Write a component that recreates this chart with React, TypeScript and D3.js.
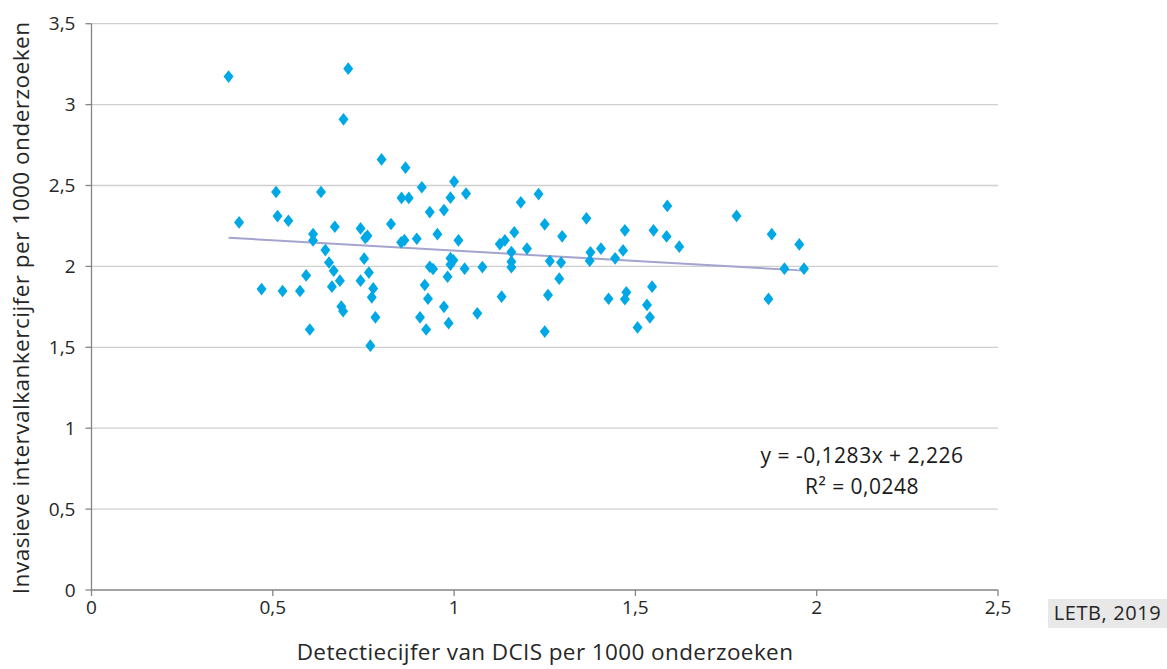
import React from "react";
import * as d3 from "d3";

// Detectiecijfer DCIS (x) en invasieve intervalkankercijfer (y) per regio, per 1000 onderzoeken
const dcisRate: number[] = [
  0.378, 0.708, 0.695, 0.407, 0.469, 0.509, 0.513, 0.543, 0.527, 0.575,
  0.592, 0.602, 0.611, 0.611, 0.633, 0.645, 0.655, 0.668, 0.663, 0.671,
  0.685, 0.689, 0.694, 0.742, 0.755, 0.761, 0.742, 0.752, 0.765, 0.777,
  0.773, 0.783, 0.769, 0.800, 0.826, 0.855, 0.866, 0.875, 0.854, 0.863,
  0.897, 0.911, 0.906, 0.919, 0.928, 0.923, 0.933, 0.933, 0.942, 0.954,
  0.972, 0.972, 0.990, 0.982, 0.985, 0.990, 0.998, 1.000, 0.990, 1.012,
  1.029, 1.033, 1.064, 1.078, 1.126, 1.131, 1.140, 1.158, 1.158, 1.158,
  1.166, 1.184, 1.201, 1.233, 1.250, 1.250, 1.259, 1.264, 1.290, 1.298,
  1.295, 1.365, 1.376, 1.374, 1.405, 1.426, 1.444, 1.471, 1.466, 1.475,
  1.471, 1.506, 1.532, 1.540, 1.546, 1.550, 1.588, 1.586, 1.621, 1.779,
  1.876, 1.867, 1.911, 1.952, 1.965,
];

const invasiveRate: number[] = [
  3.173, 3.222, 2.909, 2.272, 1.860, 2.460, 2.311, 2.282, 1.848, 1.848,
  1.944, 1.610, 2.200, 2.160, 2.460, 2.101, 2.024, 1.973, 1.875, 2.245,
  1.912, 1.752, 1.723, 2.235, 2.176, 2.189, 1.912, 2.048, 1.962, 1.864,
  1.809, 1.685, 1.510, 2.661, 2.262, 2.423, 2.610, 2.423, 2.149, 2.162,
  2.171, 2.489, 1.685, 1.885, 1.800, 1.610, 2.336, 1.998, 1.984, 2.199,
  1.750, 2.348, 2.425, 1.936, 1.649, 2.051, 2.038, 2.524, 2.011, 2.161,
  1.986, 2.450, 1.710, 1.996, 2.138, 1.813, 2.161, 2.089, 2.029, 1.995,
  2.211, 2.396, 2.110, 2.447, 2.260, 1.597, 1.823, 2.033, 1.924, 2.186,
  2.024, 2.297, 2.087, 2.035, 2.110, 1.800, 2.050, 2.223, 2.099, 1.840,
  1.797, 1.623, 1.762, 1.685, 1.875, 2.223, 2.374, 2.185, 2.122, 2.312,
  2.199, 1.799, 1.986, 2.136, 1.986,
];

const xTicks: number[] = [0, 0.5, 1, 1.5, 2, 2.5];
const yTicks: number[] = [0, 0.5, 1, 1.5, 2, 2.5, 3, 3.5];

// Lineaire trendlijn zoals weergegeven in de vergelijking
const trendSlope = -0.1283;
const trendIntercept = 2.226;
const rSquared = 0.0248;

const xTitle = "Detectiecijfer van DCIS per 1000 onderzoeken";
const yTitle = "Invasieve intervalkankercijfer per 1000 onderzoeken";
const sourceLabel = "LETB, 2019";

const W = 1167;
const H = 669;
const FONT = "'Open Sans', Lato, sans-serif";

const fmt = (v: number, digits?: number) =>
  (digits === undefined ? String(v) : v.toFixed(digits)).replace(".", ",");

export default function App() {
  const x = d3.scaleLinear().domain([0, 2.5]).range([91.5, 998]);
  const y = d3.scaleLinear().domain([0, 3.5]).range([590, 23.7]);

  const points = dcisRate.map((d, i) => ({ x: d, y: invasiveRate[i] }));
  const xMin = d3.min(dcisRate) as number;
  const xMax = d3.max(dcisRate) as number;
  const trend = d3
    .line<number>()
    .x((d) => x(d))
    .y((d) => y(trendSlope * d + trendIntercept))([xMin, xMax]);

  // ruitvormige markering, ca. 10 px breed en 13 px hoog
  const diamond = d3.symbol().type(d3.symbolDiamond).size(60)() as string;

  const eq = `y = ${fmt(trendSlope)}x + ${fmt(trendIntercept)}`;

  return (
    <svg
      width={W}
      height={H}
      style={{ position: "absolute", left: 0, top: 0, background: "#fff" }}
      fontFamily={FONT}
    >
      {/* horizontale rasterlijnen */}
      {yTicks.slice(1).map((t) => (
        <line
          key={"g" + t}
          x1={x(0)}
          x2={x(2.5)}
          y1={y(t)}
          y2={y(t)}
          stroke="#cfcfcf"
          strokeWidth={1.3}
        />
      ))}

      {/* assen */}
      <line x1={x(0)} x2={x(0)} y1={y(0)} y2={y(3.5)} stroke="#858585" strokeWidth={1.3} />
      <line x1={x(0)} x2={x(2.5)} y1={y(0)} y2={y(0)} stroke="#858585" strokeWidth={1.3} />
      {yTicks.map((t) => (
        <g key={"y" + t}>
          <line x1={x(0) - 6} x2={x(0)} y1={y(t)} y2={y(t)} stroke="#858585" strokeWidth={1.3} />
          <text
            x={x(0) - 16}
            y={y(t)}
            dy="0.35em"
            textAnchor="end"
            fontSize={19}
            fill="#262626"
          >
            {fmt(t)}
          </text>
        </g>
      ))}
      {xTicks.map((t) => (
        <g key={"x" + t}>
          <line x1={x(t)} x2={x(t)} y1={y(0)} y2={y(0) + 6} stroke="#858585" strokeWidth={1.3} />
          <text x={x(t)} y={y(0) + 24} textAnchor="middle" fontSize={19} fill="#262626">
            {fmt(t)}
          </text>
        </g>
      ))}

      {/* trendlijn */}
      <path d={trend as string} fill="none" stroke="#a4a4cf" strokeWidth={2} />

      {/* punten */}
      {points.map((p, i) => (
        <path
          key={i}
          d={diamond}
          transform={`translate(${x(p.x)},${y(p.y)}) scale(1.2,0.88)`}
          fill="#00a9e6"
        />
      ))}

      {/* vergelijking */}
      <text x={862} y={463} textAnchor="middle" fontSize={21} letterSpacing={0.5} fill="#1a1a1a">
        {eq}
      </text>
      <text x={862} y={494} textAnchor="middle" fontSize={21} letterSpacing={0.5} fill="#1a1a1a">
        {`R² = ${fmt(rSquared)}`}
      </text>

      {/* astitels */}
      <text
        x={545}
        y={660}
        textAnchor="middle"
        fontSize={22.5}
        letterSpacing={0.4}
        fill="#262626"
      >
        {xTitle}
      </text>
      <text
        transform={`translate(29,${(y(0) + y(3.5)) / 2 + 1}) rotate(-90)`}
        textAnchor="middle"
        fontSize={22.5}
        letterSpacing={0.5}
        fill="#262626"
      >
        {yTitle}
      </text>

      {/* bron */}
      <rect x={1048} y={599} width={119} height={29} fill="#e8e8e8" />
      <text
        x={1107.5}
        y={620}
        textAnchor="middle"
        fontSize={20}
        letterSpacing={0.6}
        fill="#262626"
      >
        {sourceLabel}
      </text>
    </svg>
  );
}
